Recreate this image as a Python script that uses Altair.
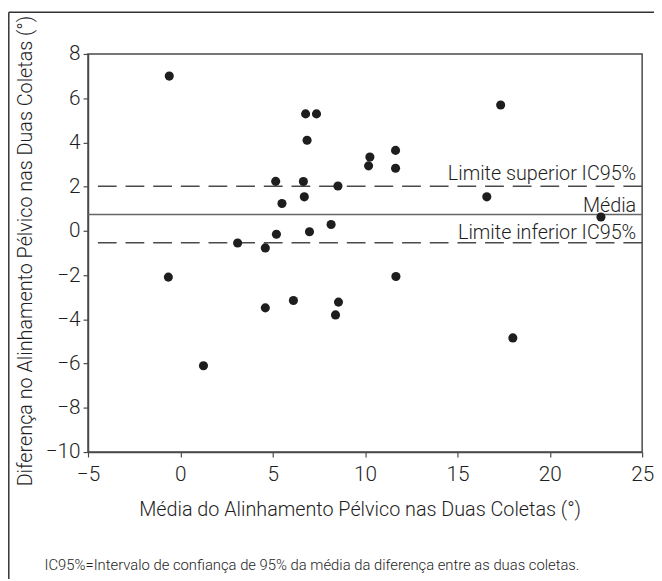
import altair as alt
import pandas as pd

# ---- data ----
mean_x = [-0.6, -0.65, 1.25, 3.1, 4.6, 4.6, 5.16, 5.2, 5.5, 6.12, 6.66, 6.71, 6.78,
          6.86, 6.99, 7.37, 8.16, 8.4, 8.53, 8.56, 10.19, 10.26, 11.65, 11.65, 11.67,
          16.59, 17.34, 18.0, 22.77]
diff_y = [7.0, -2.09, -6.1, -0.55, -0.77, -3.48, 2.24, -0.15, 1.24, -3.15, 2.23, 1.54, 5.29,
          4.10, -0.04, 5.29, 0.29, -3.80, 2.03, -3.22, 2.94, 3.34, 3.64, 2.83, -2.06,
          1.54, 5.69, -4.84, 0.63]

ref_names = ["Limite superior IC95%", "Média", "Limite inferior IC95%"]
ref_values = [2.02, 0.74, -0.54]
ref_dashed = [True, False, True]

x_ticks = [-5, 0, 5, 10, 15, 20, 25]
y_ticks = [-10, -8, -6, -4, -2, 0, 2, 4, 6, 8]

x_title = "Média do Alinhamento Pélvico nas Duas Coletas (°)"
y_title = "Diferença no Alinhamento Pélvico nas Duas Coletas (°)"
footnote = "IC95%=Intervalo de confiança de 95% da média da diferença entre as duas coletas."

FONT = "Roboto"
WEIGHT = 300
INK = "#1e1e1e"
GRAY = "#4a4a4a"
W, H = 561, 403

points_df = pd.DataFrame({"x": mean_x, "y": diff_y})
ref_df = pd.DataFrame({"label": ref_names, "value": ref_values,
                       "dashed": ref_dashed, "xpos": [x_ticks[-1]] * len(ref_names)})

xscale = alt.Scale(domain=[x_ticks[0], x_ticks[-1]], nice=False, zero=False)
yscale = alt.Scale(domain=[y_ticks[0], y_ticks[-1]], nice=False, zero=False)

points = alt.Chart(points_df).mark_circle(size=85, color=INK, opacity=1).encode(
    x=alt.X("x:Q", scale=xscale,
            axis=alt.Axis(values=x_ticks, title=x_title, grid=False,
                          labelFlush=False, labelOverlap=False,
                          tickSize=5, labelPadding=7,
                          titleX=275, titleY=64, titleBaseline="alphabetic")),
    y=alt.Y("y:Q", scale=yscale,
            axis=alt.Axis(values=y_ticks, title=y_title, grid=False,
                          labelOverlap=False, labelFlush=False,
                          tickSize=5, labelPadding=3,
                          titleX=-57, titleY=199, titleBaseline="alphabetic")),
)

dashed = alt.Chart(ref_df).transform_filter("datum.dashed").mark_rule(
    color=GRAY, strokeWidth=1.5, strokeDash=[19, 9]
).encode(y=alt.Y("value:Q", scale=yscale))

solid = alt.Chart(ref_df).transform_filter("!datum.dashed").mark_rule(
    color="#666666", strokeWidth=1.5
).encode(y=alt.Y("value:Q", scale=yscale))

label_dy = {"Limite superior IC95%": -6, "Média": -3, "Limite inferior IC95%": -3.5}
labels = []
for name in ref_names:
    labels.append(
        alt.Chart(ref_df).transform_filter(alt.datum.label == name).mark_text(
            align="right", baseline="alphabetic", dx=-6, dy=label_dy[name],
            font=FONT, fontWeight=WEIGHT, fontSize=20, color=INK
        ).encode(x=alt.X("xpos:Q", scale=xscale), y=alt.Y("value:Q", scale=yscale),
                 text="label:N")
    )

one = pd.DataFrame({"t": [footnote]})
note = alt.Chart(one).mark_text(
    align="left", baseline="alphabetic", font=FONT, fontWeight=WEIGHT, fontSize=15, color=INK
).encode(x=alt.value(-44), y=alt.value(522), text="t:N")

frame_left = alt.Chart(one).mark_rule(color="#333333", strokeWidth=1.5).encode(
    x=alt.value(-80.2), y=alt.value(-42.2), y2=alt.value(H + 200))
frame_top = alt.Chart(one).mark_rule(color="#333333", strokeWidth=1.5).encode(
    x=alt.value(-80.2), x2=alt.value(W + 50), y=alt.value(-42.2))

chart = alt.layer(dashed, solid, points, *labels, note, frame_left, frame_top).properties(
    width=W, height=H,
    autosize=alt.AutoSizeParams(type="none"),
    padding={"left": 81, "top": 43, "right": 12, "bottom": 125},
    background="white",
).configure_view(
    stroke=GRAY, strokeWidth=1.5
).configure_axis(
    domainColor=GRAY, domainWidth=1.5, tickColor=GRAY, tickWidth=1.2,
    labelFont=FONT, labelFontSize=21, labelFontWeight=WEIGHT, labelColor=INK,
    titleFont=FONT, titleFontSize=20, titleFontWeight=WEIGHT, titleColor=INK,
)

chart.save("out.html", embed_options={"renderer": "svg", "actions": False})
